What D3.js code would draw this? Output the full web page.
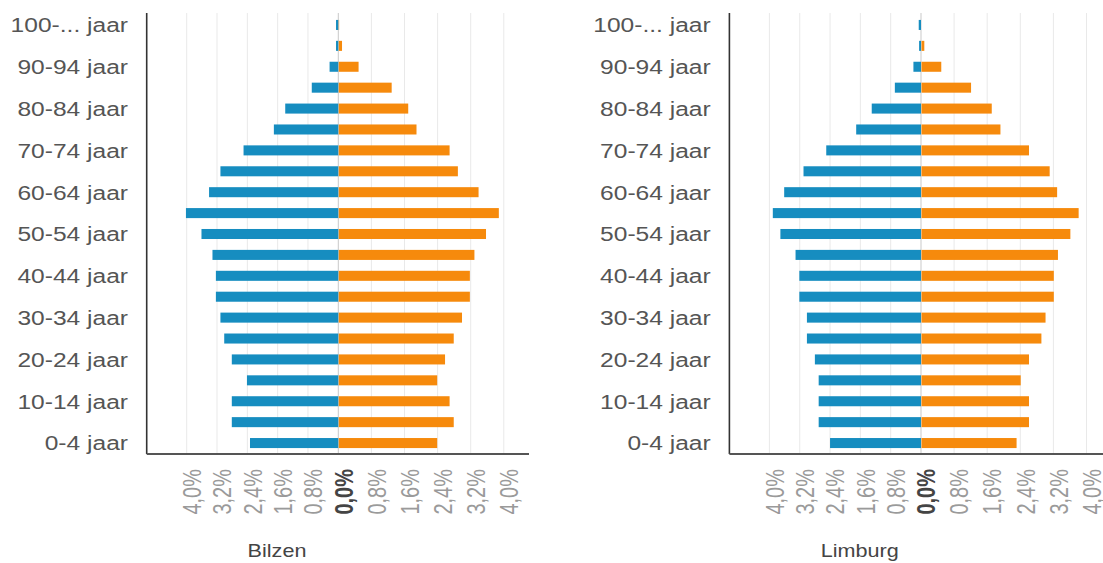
<!DOCTYPE html>
<html>
<head>
<meta charset="utf-8">
<script src="https://cdn.jsdelivr.net/npm/d3@7"></script>
<style>
  html, body { margin: 0; padding: 0; background: #fff; }
  svg { display: block; font-family: "Liberation Sans", Arial, sans-serif; }
</style>
</head>
<body>
<svg id="chart" width="1103" height="563"></svg>
<script>
// Age groups, bottom (youngest) to top (oldest)
const ageGroups = ["0-4 jaar","5-9 jaar","10-14 jaar","15-19 jaar","20-24 jaar","25-29 jaar",
  "30-34 jaar","35-39 jaar","40-44 jaar","45-49 jaar","50-54 jaar","55-59 jaar","60-64 jaar",
  "65-69 jaar","70-74 jaar","75-79 jaar","80-84 jaar","85-89 jaar","90-94 jaar","95-99 jaar","100-... jaar"];
const shownLabels = ["0-4 jaar","10-14 jaar","20-24 jaar","30-34 jaar","40-44 jaar","50-54 jaar",
  "60-64 jaar","70-74 jaar","80-84 jaar","90-94 jaar","100-... jaar"];

// Percent of population (men = blue, left; women = orange, right)
const bilzenMen   = [2.33,2.81,2.81,2.41,2.81,3.01,3.11,3.23,3.23,3.32,3.61,4.02,3.41,3.11,2.50,1.70,1.40,0.70,0.23,0.06,0.06];
const bilzenWomen = [2.39,2.79,2.69,2.39,2.58,2.79,2.99,3.18,3.18,3.29,3.57,3.88,3.39,2.89,2.69,1.89,1.69,1.29,0.49,0.09,0.02];
const limburgMen   = [2.40,2.70,2.70,2.70,2.80,3.01,3.01,3.21,3.21,3.31,3.71,3.91,3.61,3.10,2.50,1.71,1.30,0.69,0.20,0.05,0.06];
const limburgWomen = [2.31,2.61,2.61,2.41,2.61,2.91,3.01,3.21,3.21,3.31,3.61,3.81,3.29,3.11,2.61,1.92,1.71,1.21,0.49,0.08,0.01];

const tickValues = [-4,-3.2,-2.4,-1.6,-0.8,0,0.8,1.6,2.4,3.2,4];
const tickLabels = ["4,0%","3,2%","2,4%","1,6%","0,8%","0,0%","0,8%","1,6%","2,4%","3,2%","4,0%"];

const charts = [
  {title: "Bilzen", men: bilzenMen, women: bilzenWomen, dx: 0},
  {title: "Limburg", men: limburgMen, women: limburgWomen, dx: 582.7}
];

const svg = d3.select("#chart");
const blue = "#168dc0", orange = "#f68a0c";
const axisX = 146.7, topY = 13, bottomY = 454;

const x = d3.scaleLinear().domain([-4, 0, 4]).range([186.7, 338.3, 503.8]);
const y = d3.scaleBand().domain(ageGroups.slice().reverse()).range([14.5, 453.5]).paddingInner(0.52).paddingOuter(0.26);

charts.forEach(c => {
  const g = svg.append("g").attr("transform", `translate(${c.dx},0)`);

  // gridlines
  g.selectAll("line.grid").data(tickValues).join("line")
    .attr("class","grid")
    .attr("x1", d => x(d)).attr("x2", d => x(d))
    .attr("y1", topY).attr("y2", bottomY)
    .attr("stroke", d => d === 0 ? "#c9c9c9" : "#e9e9e9")
    .attr("stroke-width", 1);

  // bars
  const rows = ageGroups.map((a, i) => ({age: a, m: c.men[i], w: c.women[i]}));
  g.selectAll("rect.m").data(rows).join("rect")
    .attr("class","m")
    .attr("x", d => x(-d.m)).attr("width", d => x(0) - x(-d.m))
    .attr("y", d => y(d.age)).attr("height", y.bandwidth())
    .attr("fill", blue);
  g.selectAll("rect.w").data(rows).join("rect")
    .attr("class","w")
    .attr("x", x(0) + 0.5).attr("width", d => Math.max(0, x(d.w) - x(0) - 0.5))
    .attr("y", d => y(d.age)).attr("height", y.bandwidth())
    .attr("fill", orange);

  // y axis
  const yAxis = d3.axisLeft(y).tickValues(shownLabels).tickSize(0).tickSizeOuter(0);
  const ya = g.append("g").attr("transform", `translate(${axisX},0)`).call(yAxis);
  ya.select(".domain").attr("stroke", "#333").attr("stroke-width", 1.6)
    .attr("d", `M0,${topY}V${bottomY}`);
  ya.selectAll(".tick text")
    .attr("x", -16).attr("dy", "0.35em")
    .attr("transform", "scale(1.17,1)")
    .attr("fill", "#555").attr("font-size", "21px")
    .attr("font-family", "Liberation Sans, Arial, sans-serif");

  // x axis
  const xAxis = d3.axisBottom(x).tickValues(tickValues).tickSize(0)
    .tickFormat((d, i) => tickLabels[i]);
  const xa = g.append("g").attr("transform", `translate(0,${bottomY})`).call(xAxis);
  xa.select(".domain").remove();
  xa.selectAll(".tick text")
    .attr("y", 0).attr("x", 0).attr("dy", "0.35em")
    .attr("text-anchor", "end")
    .attr("transform", "translate(5,15) scale(1.25,1) rotate(-90)")
    .attr("font-size", "20px")
    .attr("font-family", "Liberation Sans, Arial, sans-serif")
    .attr("fill", (d) => d === 0 ? "#444" : "#9a9a9a")
    .attr("font-weight", d => d === 0 ? "bold" : "normal");

  // bottom axis line
  g.append("line")
    .attr("x1", axisX).attr("x2", 529)
    .attr("y1", bottomY).attr("y2", bottomY)
    .attr("stroke", "#555").attr("stroke-width", 2);

  // title
  g.append("text")
    .attr("transform", `translate(277,557) scale(1.2,1)`)
    .attr("text-anchor", "middle")
    .attr("font-size", "18px")
    .attr("fill", "#444")
    .text(c.title);
});
</script>
</body>
</html>
